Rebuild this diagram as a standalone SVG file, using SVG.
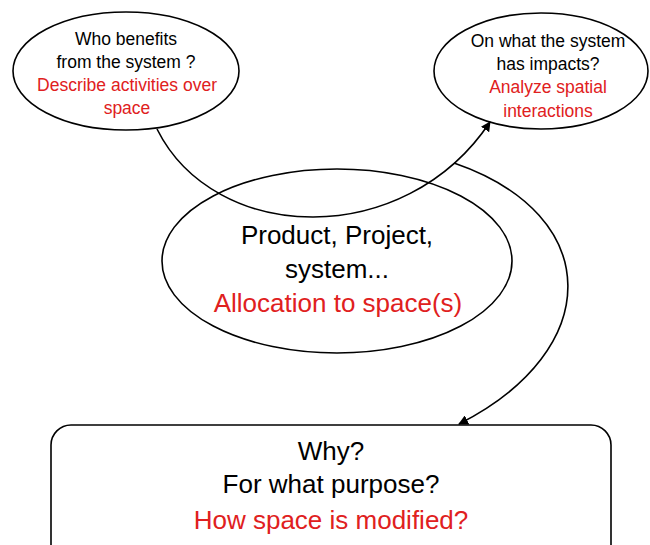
<svg xmlns="http://www.w3.org/2000/svg" width="650" height="545" viewBox="0 0 650 545">
<defs>
<style>
.shape{fill:#fff;stroke:#000;stroke-width:1.6}
.t{font-family:"Liberation Sans",Arial,sans-serif;text-anchor:middle;fill:#000}
.r{fill:#e02020}
.s{font-size:17.5px}
.b{font-size:26px}
.edge{fill:none;stroke:#000;stroke-width:1.6}
</style>
<marker id="arr" markerWidth="10" markerHeight="10" refX="9" refY="5" orient="auto" markerUnits="userSpaceOnUse" viewBox="0 0 10 10">
<path d="M0,0 L10,5 L0,10 z" fill="#000"/>
</marker>
</defs>
<g id="node-center">
<ellipse class="shape" cx="337" cy="261" rx="175" ry="92"/>
<text class="t b" x="337" y="244">Product, Project,</text>
<text class="t b" x="337" y="278">system...</text>
<text class="t b r" x="338" y="312">Allocation to space(s)</text>
</g>
<g id="node-who">
<ellipse class="shape" cx="126" cy="71" rx="113" ry="59"/>
<text class="t s" x="126" y="45">Who benefits</text>
<text class="t s" x="126" y="68">from the system ?</text>
<text class="t s r" x="127" y="91">Describe activities over</text>
<text class="t s r" x="127" y="114">space</text>
</g>
<g id="node-impacts">
<ellipse class="shape" cx="541" cy="71" rx="107" ry="58"/>
<text class="t s" x="548" y="47">On what the system</text>
<text class="t s" x="548" y="70">has impacts?</text>
<text class="t s r" x="548" y="93">Analyze spatial</text>
<text class="t s r" x="548" y="117">interactions</text>
</g>
<g id="node-why">
<rect class="shape" x="51" y="425" width="560" height="140" rx="20" ry="20"/>
<text class="t b" x="331" y="460">Why?</text>
<text class="t b" x="331" y="493">For what purpose?</text>
<text class="t b r" x="331" y="529">How space is modified?</text>
</g>
<g id="connectors">
<path class="edge" d="M157,129 C215,245 405,250 490,122" marker-end="url(#arr)"/>
<path class="edge" d="M454,163 C605,215 605,350 459,424" marker-end="url(#arr)"/>
</g>
</svg>
